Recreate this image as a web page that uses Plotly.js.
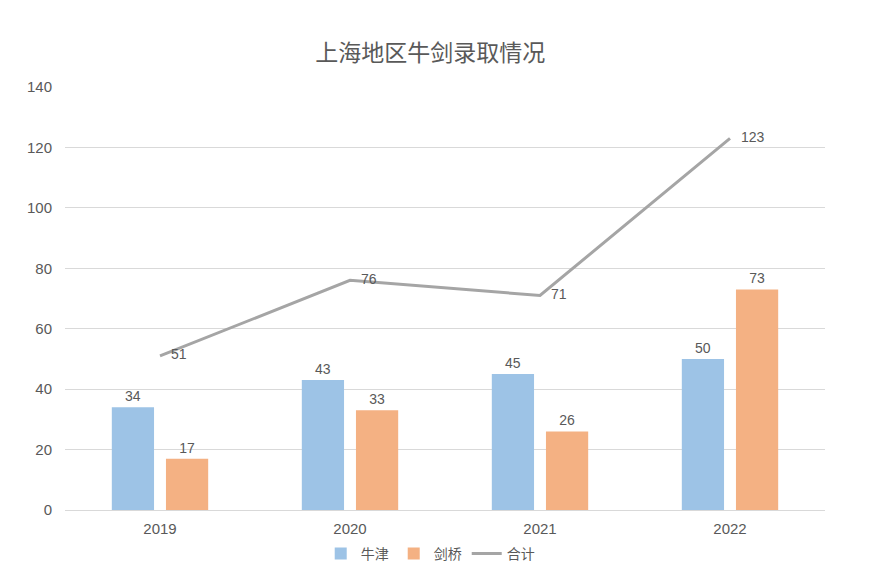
<!DOCTYPE html>
<html>
<head>
<meta charset="utf-8">
<script src="https://cdn.plot.ly/plotly-3.0.1.min.js"></script>
<style>html,body{margin:0;padding:0;background:#fff;}#chart{width:878px;height:574px;}</style>
</head>
<body>
<div id="chart"></div>
<script>
const years = ['2019', '2020', '2021', '2022'];
const oxford = [34, 43, 45, 50];
const cambridge = [17, 33, 26, 73];
const total = [51, 76, 71, 123];
const yTicks = [0, 20, 40, 60, 80, 100, 120, 140];

const fontFam = '"Liberation Sans", Arial, "Noto Sans CJK SC", sans-serif';
const txt = '#595959';

const traces = [
  {type: 'bar', name: '牛津', x: years, y: oxford, marker: {color: '#9DC3E6'},
   text: oxford.map(String), textposition: 'outside', cliponaxis: false,
   textfont: {size: 14, color: txt, family: fontFam}},
  {type: 'bar', name: '剑桥', x: years, y: cambridge, marker: {color: '#F4B183'},
   text: cambridge.map(String), textposition: 'outside', cliponaxis: false,
   textfont: {size: 14, color: txt, family: fontFam}},
  {type: 'scatter', mode: 'lines+markers+text', name: '合计', x: years, y: total,
   line: {color: '#A5A5A5', width: 3},
   marker: {size: 16, color: 'rgba(0,0,0,0)', line: {width: 0}},
   text: total.map(String),
   textposition: 'middle right', cliponaxis: false,
   textfont: {size: 14, color: txt, family: fontFam}}
];

const layout = {
  width: 878, height: 574,
  margin: {l: 65, r: 53, t: 87, b: 64, autoexpand: false},
  paper_bgcolor: '#fff', plot_bgcolor: '#fff',
  font: {family: fontFam, color: txt, size: 14},
  title: {text: '上海地区牛剑录取情况', x: 0.49, xanchor: 'center', y: 0.907, yanchor: 'middle',
          font: {size: 23, color: txt, family: '"Noto Sans CJK SC", sans-serif'}},
  barmode: 'group', bargap: 0.43, bargroupgap: 0.22,
  xaxis: {type: 'category', showgrid: false, zeroline: false, showline: true, linecolor: '#D9D9D9', linewidth: 1,
          ticks: '', tickfont: {size: 15, color: txt}, ticklabelstandoff: 5},
  yaxis: {range: [0, 140], tickvals: yTicks, ticktext: yTicks.map(String), showgrid: true, gridcolor: '#D9D9D9',
          zeroline: false, showline: false, ticks: '', tickfont: {size: 15, color: txt}, ticklabelstandoff: 12},
  showlegend: true,
  legend: {orientation: 'h', x: 0.49, xref: 'container', xanchor: 'center', y: 0.035, yref: 'container', yanchor: 'middle',
           font: {size: 14, color: txt, family: '"Noto Sans CJK SC", sans-serif'}, traceorder: 'normal', itemwidth: 30}
};

Plotly.newPlot('chart', traces, layout, {displayModeBar: false, staticPlot: true});
</script>
</body>
</html>
